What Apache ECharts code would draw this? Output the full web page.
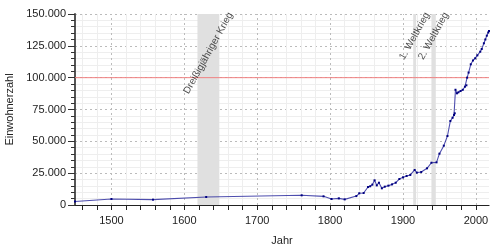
<!DOCTYPE html>
<html><head><meta charset="utf-8">
<script src="https://cdn.jsdelivr.net/npm/echarts@6/dist/echarts.min.js"></script>
<style>html,body{margin:0;padding:0;background:#fff}#c{width:500px;height:250px}</style>
</head><body><div id="c"></div>
<script>
const years = [1450,1500,1557,1630,1761,1791,1802,1812,1820,1836,1840,1846,1852,1855,1858,1861,1864,1867,1871,1875,1880,1885,1890,1895,1900,1905,1910,1916,1919,1925,1933,1939,1946,1950,1956,1961,1965,1968,1970,1971,1972,1974,1976,1979,1982,1985,1987,1988,1990,1993,1996,1999,2002,2006,2008,2011,2013,2015,2017,2018];
const population = [2700,4700,4200,6300,7600,6800,4700,5200,4400,7000,9200,9400,14100,14700,16000,19400,15400,17500,13100,14400,15200,16200,17500,20400,21700,22800,23600,27500,25400,25900,28800,33200,33500,40300,46600,54200,66000,68500,70700,72000,90500,87700,88500,89500,90500,92900,94000,100000,104000,110500,113500,115200,117500,120400,122500,127000,130000,133000,135500,136700];
const periods = [[1618,1648],[1914,1918],[1939,1945]];
const periodLabels = ["Dreißigjähriger Krieg","1. Weltkrieg","2. Weltkrieg"];
const xLabelValues = [1500,1600,1700,1800,1900,2000];
const xTickValues = [1460,1480,1500,1520,1540,1560,1580,1600,1620,1640,1660,1680,1700,1720,1740,1760,1780,1800,1820,1840,1860,1880,1900,1920,1940,1960,1980,2000];
const xRange = [1450, 2018];
const referenceLine = 100000;

const font = 'Liberation Sans, Arial, sans-serif';
const labelFontSize = 10;
const labelAngle = 61;
const chart = echarts.init(document.getElementById('c'), null, {renderer:'canvas'});

const cv = document.createElement('canvas').getContext('2d');
cv.font = labelFontSize + 'px ' + font;
function labelDrop(text) {
  const w = cv.measureText(text).width;
  return w / 2 * Math.sin(labelAngle * Math.PI / 180) - 1;
}

const gridLines = [];
xTickValues.forEach(v => {
  const major = xLabelValues.indexOf(v) >= 0;
  gridLines.push({xAxis: v, lineStyle: major ? {color:'#bbbbbb', type:[2,3], width:1} : {color:'#eeeeee', type:'solid', width:1}});
});

chart.setOption({
  animation: false,
  grid: {left: 75, right: 11, top: 14, bottom: 45, containLabel: false, outerBoundsMode: 'none'},
  xAxis: {
    type: 'value', min: xRange[0], max: xRange[1],
    name: 'Jahr', nameLocation: 'middle', nameGap: 30,
    nameTextStyle: {fontFamily: font, fontSize: 11, color: '#222'},
    axisLine: {lineStyle: {color: '#222', width: 1.2}},
    axisTick: {customValues: xTickValues, length: 5, lineStyle: {color: '#222'}},
    axisLabel: {customValues: xLabelValues, fontFamily: font, fontSize: 11, color: '#222', margin: 10,
      formatter: v => String(v)},
    splitLine: {show: false}
  },
  yAxis: {
    type: 'value', min: 0, max: 150000, interval: 25000,
    name: 'Einwohnerzahl', nameLocation: 'middle', nameGap: 59,
    nameTextStyle: {fontFamily: font, fontSize: 11, color: '#222'},
    axisLine: {show: true, lineStyle: {color: '#555', width: 2}},
    axisTick: {show: true, length: 7, lineStyle: {color: '#333'}},
    minorTick: {show: true, splitNumber: 5, length: 4, lineStyle: {color: '#333'}},
    axisLabel: {fontFamily: font, fontSize: 11, color: '#222', margin: 9,
      formatter: v => v === 0 ? '0' : (v/1000).toFixed(3)},
    splitLine: {show: true, lineStyle: {color: '#bbbbbb', type: [2,3]}},
    minorSplitLine: {show: true, lineStyle: {color: '#eeeeee'}}
  },
  series: [
    {
      type: 'line', data: [], z: 1, silent: true,
      markLine: {silent: true, z: 1, symbol: 'none', label: {show: false}, animation: false,
        data: gridLines}
    },
    {
      type: 'line', data: [], z: 2, silent: true,
      markArea: {silent: true, z: 2, itemStyle: {color: '#e0e0e0', opacity: 1},
        data: periods.map(p => [{xAxis: p[0]}, {xAxis: p[1]}])}
    },
    {
      type: 'line', z: 3, silent: true, symbol: 'none', showSymbol: false,
      data: [[xRange[0], referenceLine], [xRange[1], referenceLine]],
      lineStyle: {color: '#f08080', type: 'solid', width: 1},
      itemStyle: {color: '#f08080'}
    },
    {
      type: 'scatter', z: 6, silent: true, symbolSize: 0,
      data: periods.map((p, i) => ({value: [(p[0]+p[1])/2, 150000], name: periodLabels[i],
        label: {position: [0, labelDrop(periodLabels[i])]}})),
      label: {show: true, formatter: p => p.name, rotate: labelAngle, align: 'center', verticalAlign: 'middle',
        fontFamily: font, fontSize: labelFontSize, color: '#1a1a1a'}
    },
    {
      type: 'line', z: 5,
      data: years.map((y, i) => [y, population[i]]),
      symbol: 'rect', symbolSize: 2, showSymbol: true, showAllSymbol: true,
      lineStyle: {color: '#22229a', width: 1.1, opacity: 0.8},
      itemStyle: {color: '#000080'}
    }
  ]
});
</script></body></html>
